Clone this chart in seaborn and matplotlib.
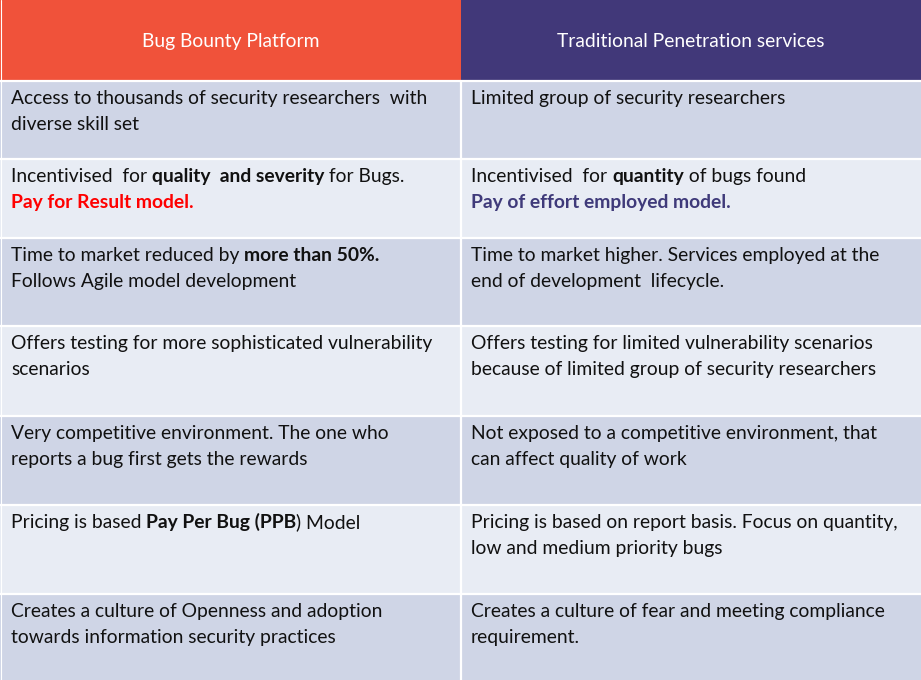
import numpy as np
import matplotlib
matplotlib.use("Agg")
import matplotlib.pyplot as plt
import seaborn as sns
from matplotlib.colors import ListedColormap
from matplotlib.font_manager import FontProperties

# table content
headers = ["Bug Bounty Platform", "Traditional Penetration services"]

# each cell = list of lines, each line = list of (text, style)
left_cells = [
    [[("Access to thousands of security researchers  with", "n")], [("diverse skill set", "n")]],
    [[("Incentivised  for ", "n"), ("quality  and severity", "b"), (" for Bugs.", "n")],
     [("Pay for Result model.", "red")]],
    [[("Time to market reduced by ", "n"), ("more than 50%.", "b")],
     [("Follows Agile model development", "n")]],
    [[("Offers testing for more sophisticated vulnerability", "n")], [("scenarios", "n")]],
    [[("Very competitive environment. The one who", "n")], [("reports a bug first gets the rewards", "n")]],
    [[("Pricing is based ", "n"), ("Pay Per Bug (PPB", "b"), (") Model", "n")]],
    [[("Creates a culture of Openness and adoption", "n")], [("towards information security practices", "n")]],
]
right_cells = [
    [[("Limited group of security researchers", "n")]],
    [[("Incentivised  for ", "n"), ("quantity", "b"), (" of bugs found", "n")],
     [("Pay of effort employed model.", "purple")]],
    [[("Time to market higher. Services employed at the", "n")], [("end of development  lifecycle.", "n")]],
    [[("Offers testing for limited vulnerability scenarios", "n")],
     [("because of limited group of security researchers", "n")]],
    [[("Not exposed to a competitive environment, that", "n")], [("can affect quality of work", "n")]],
    [[("Pricing is based on report basis. Focus on quantity,", "n")], [("low and medium priority bugs", "n")]],
    [[("Creates a culture of fear and meeting compliance", "n")], [("requirement.", "n")]],
]

# layout (pixels)
W, H = 921, 680
row_heights = [81, 78, 79, 88, 90, 89, 89, 86]
col_split = 461
pad_x = 11
first_base = 23
line_gap = 26

orange = "#F0523A"
purple = "#413879"
row_dark = "#CFD5E6"
row_light = "#E8ECF4"

styles = {
    "n": dict(color="#111111", weight="normal"),
    "b": dict(color="#111111", weight="bold"),
    "red": dict(color="#FF0000", weight="bold"),
    "purple": dict(color="#3F3A7A", weight="bold"),
}

font = "Lato"
fsize = 13.9

sns.set_theme(style="white")
plt.rcParams["font.family"] = [font, "DejaVu Sans"]

# background grid: code per pixel row, 2 columns
codes = [[0, 1]] + [[2, 2] if i % 2 == 0 else [3, 3] for i in range(len(row_heights) - 1)]
grid = np.repeat(np.array(codes), row_heights, axis=0)

fig = plt.figure(figsize=(W / 100, H / 100), dpi=100)
ax = fig.add_axes([0, 0, 1, 1])
sns.heatmap(grid, ax=ax, cmap=ListedColormap([orange, purple, row_dark, row_light]),
            vmin=-0.5, vmax=3.5, cbar=False, xticklabels=False, yticklabels=False)
ax.set_xlim(0, 2)
ax.set_ylim(H, 0)
ax.set_axis_off()


def fx(px):
    return px * 2 / W


# separators
for b in np.cumsum(row_heights)[:-1]:
    ax.axhline(b, color="white", lw=1.6)
ax.axvline(fx(col_split - 0.5), ymin=0, ymax=1 - row_heights[0] / H, color="white", lw=1.6)
ax.axvline(fx(0.5), color="white", lw=0.8)

renderer = fig.canvas.get_renderer()


def text_width(s, weight):
    fp = FontProperties(family=font, size=fsize, weight=weight)
    w1 = renderer.get_text_width_height_descent("|" + s + "|", fp, False)[0]
    w0 = renderer.get_text_width_height_descent("||", fp, False)[0]
    return w1 - w0


# header text
tops = np.concatenate([[0], np.cumsum(row_heights)])
for i, h in enumerate(headers):
    cx = (0 + col_split) / 2 if i == 0 else (col_split + W) / 2
    ax.text(fx(cx), row_heights[0] / 2 + 1, h, ha="center", va="center",
            color="white", fontsize=fsize, family=font)

# body text
for col, cells in enumerate([left_cells, right_cells]):
    x0 = pad_x if col == 0 else col_split + pad_x - 1
    for r, lines in enumerate(cells):
        top = tops[r + 1]
        for k, segs in enumerate(lines):
            y = top + first_base + k * line_gap
            x = x0
            for s, st in segs:
                ax.text(fx(x), y, s, ha="left", va="baseline", fontsize=fsize,
                        family=font, **styles[st])
                x += text_width(s, styles[st]["weight"])

fig.savefig("out.png", dpi=100)
